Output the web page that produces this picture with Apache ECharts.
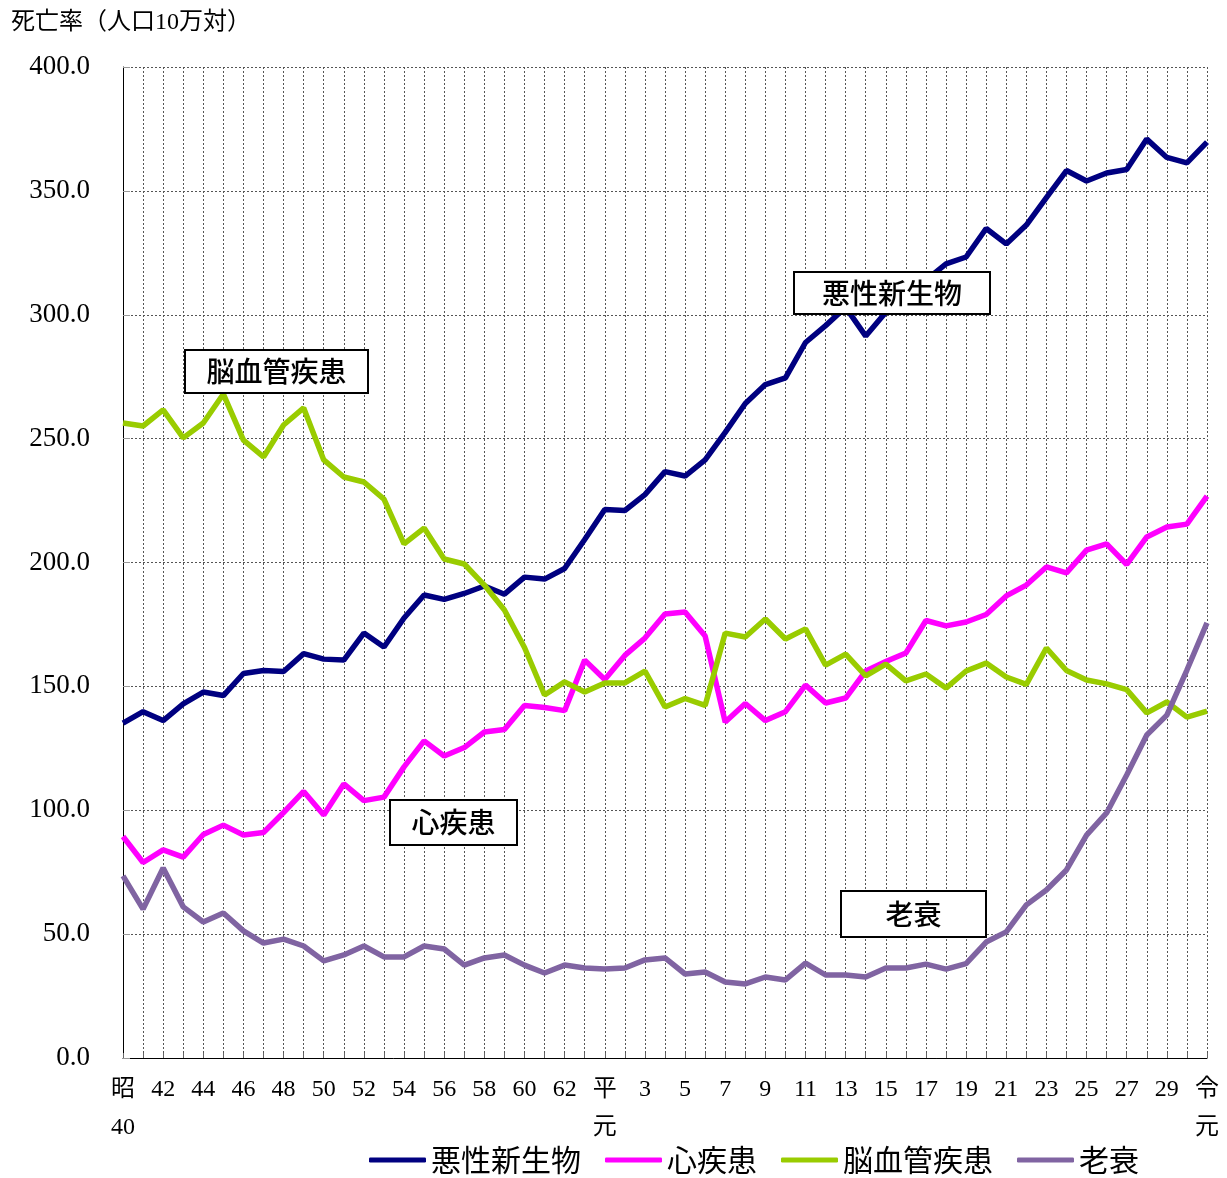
<!DOCTYPE html>
<html>
<head>
<meta charset="UTF-8">
<title>死亡率の推移</title>
<script type="text/javascript" src="https://cdn.jsdelivr.net/npm/echarts@6/dist/echarts.min.js"></script>
<style>
body { margin: 0; background: #fff; }
#chart { width: 1227px; height: 1178px; }
</style>
</head>
<body>
<div id="chart"></div>
<script>
// 年（昭40〜令元）
var years = ['昭\n40', '41', '42', '43', '44', '45', '46', '47', '48', '49', '50', '51', '52', '53', '54', '55',
    '56', '57', '58', '59', '60', '61', '62', '63',
    '平\n元', '2', '3', '4', '5', '6', '7', '8', '9', '10', '11', '12', '13', '14', '15', '16', '17', '18',
    '19', '20', '21', '22', '23', '24', '25', '26', '27', '28', '29', '30', '令\n元'];

var cancer = [135.2, 139.8, 136.2, 142.9, 147.7, 146.3, 155.2, 156.4, 156.0, 163.2, 161.0, 160.6, 171.5, 165.9,
    177.6, 186.9, 185.1, 187.5, 190.5, 187.2, 194.1, 193.3, 197.6, 209.3, 221.4, 221.0, 227.4, 236.7, 234.9,
    241.4, 252.5, 264.2, 271.8, 274.5, 288.8, 295.6, 303.0, 291.4, 301.0, 307.0, 314.0, 320.5, 323.3, 334.8,
    328.6, 336.2, 347.3, 358.2, 354.0, 357.2, 358.6, 370.9, 363.5, 361.3, 369.7];

var heart = [89.4, 78.9, 84.0, 81.1, 90.2, 94.0, 90.0, 91.0, 99.1, 107.6, 98.1, 110.6, 103.9, 105.3, 117.5,
    128.0, 121.9, 125.3, 131.6, 132.6, 142.3, 141.5, 140.2, 160.6, 152.8, 162.5, 169.5, 179.2, 180.0, 170.3,
    135.6, 143.1, 136.2, 139.8, 150.5, 143.3, 145.3, 156.2, 160.0, 163.5, 176.6, 174.4, 176.0, 179.0, 186.5,
    190.9, 198.2, 195.8, 205.0, 207.5, 199.2, 210.3, 214.3, 215.5, 226.8];

var stroke = [256.3, 255.1, 261.6, 250.3, 256.3, 268.0, 249.4, 242.6, 255.5, 262.4, 241.4, 234.5, 232.5, 225.6,
    207.5, 213.9, 201.4, 199.4, 190.9, 180.8, 165.7, 146.5, 151.8, 147.7, 151.4, 151.4, 156.2, 141.7, 145.1,
    142.3, 171.5, 169.9, 177.2, 169.1, 173.2, 158.6, 163.0, 154.2, 159.0, 152.2, 155.0, 149.3, 156.2, 159.4,
    153.8, 150.8, 165.5, 156.4, 152.6, 151.0, 148.7, 139.3, 143.7, 137.6, 140.0];

var senility = [73.5, 60.1, 76.7, 61.0, 54.9, 58.5, 51.3, 46.4, 48.0, 45.2, 39.2, 41.6, 45.2, 40.8, 40.8, 45.2,
    44.0, 37.5, 40.4, 41.6, 37.5, 34.3, 37.5, 36.3, 35.9, 36.3, 39.6, 40.4, 33.9, 34.7, 30.7, 29.9, 32.7, 31.5,
    38.3, 33.5, 33.5, 32.7, 36.3, 36.3, 37.9, 35.9, 38.1, 46.8, 50.9, 61.8, 67.8, 75.9, 90.0, 98.9, 114.2,
    130.4, 138.4, 156.6, 175.6];

var serif = '"Liberation Serif", "Noto Sans CJK JP", serif';
var gothic = '"Noto Sans CJK JP", sans-serif';

function labelBox(x, y, w, h, text) {
    return {
        type: 'group',
        left: x,
        top: y,
        z: 100,
        children: [
            { type: 'rect', z: 100, shape: { x: 0, y: 0, width: w, height: h },
              style: { fill: '#fff', stroke: '#000', lineWidth: 2 } },
            { type: 'text', z: 101, x: w / 2, y: h / 2,
              style: { text: text, fill: '#000', font: '500 28px ' + gothic, align: 'center', verticalAlign: 'middle' } }
        ]
    };
}

var chart = echarts.init(document.getElementById('chart'));
chart.setOption({
    animation: false,
    backgroundColor: '#fff',
    title: {
        text: '死亡率（人口10万対）',
        left: 6,
        top: 6,
        textStyle: { fontFamily: serif, fontSize: 24, fontWeight: 'normal', color: '#000' }
    },
    legend: {
        left: 364,
        top: 1140,
        icon: 'roundRect',
        itemWidth: 57,
        itemHeight: 5,
        itemGap: 24,
        textStyle: { fontFamily: gothic, fontSize: 30, color: '#000' },
        data: ['悪性新生物', '心疾患', '脳血管疾患', '老衰']
    },
    grid: { left: 123, right: 20, top: 67, bottom: 120 },
    xAxis: {
        type: 'category',
        boundaryGap: false,
        data: years,
        axisLine: { lineStyle: { color: '#000', width: 1 } },
        axisTick: { inside: true, length: 5, interval: 0, lineStyle: { color: '#666' } },
        axisLabel: { interval: 1, margin: 13, fontFamily: serif, fontSize: 24, lineHeight: 38, color: '#000' },
        splitLine: { show: true, interval: 0, lineStyle: { color: '#555', type: [2, 2], width: 1 } }
    },
    yAxis: {
        type: 'value',
        min: 0,
        max: 400,
        interval: 50,
        axisLine: { show: true, lineStyle: { color: '#000', width: 1 } },
        axisTick: { show: true, inside: true, length: 7, lineStyle: { color: '#999' } },
        axisLabel: {
            margin: 33, fontFamily: serif, fontSize: 27, color: '#000',
            formatter: function (v) { return v.toFixed(1); }
        },
        splitLine: { show: true, lineStyle: { color: '#555', type: [2, 2], width: 1 } }
    },
    series: [
        { name: '悪性新生物', type: 'line', data: cancer, symbol: 'none', color: '#000080', lineStyle: { width: 5.5 } },
        { name: '心疾患', type: 'line', data: heart, symbol: 'none', color: '#FF00FF', lineStyle: { width: 5.5 } },
        { name: '脳血管疾患', type: 'line', data: stroke, symbol: 'none', color: '#99CC00', lineStyle: { width: 5.5 } },
        { name: '老衰', type: 'line', data: senility, symbol: 'none', color: '#8064A2', lineStyle: { width: 5.5 } }
    ],
    graphic: [
        labelBox(793, 271, 196, 42, '悪性新生物'),
        labelBox(184, 349, 183, 43, '脳血管疾患'),
        labelBox(389, 799, 127, 45, '心疾患'),
        labelBox(840, 890, 145, 46, '老衰')
    ]
});
</script>
</body>
</html>
